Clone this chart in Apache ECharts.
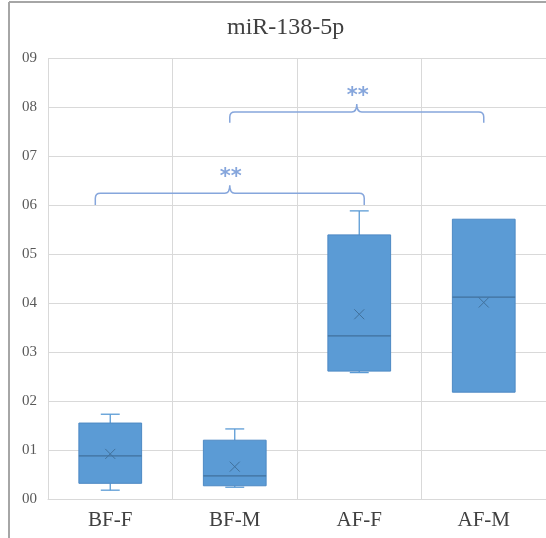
<!DOCTYPE html>
<html>
<head>
<meta charset="utf-8">
<script src="https://cdn.jsdelivr.net/npm/echarts@6/dist/echarts.min.js"></script>
<style>
  html, body { margin: 0; padding: 0; background: #fff; }
  #chart { width: 546px; height: 538px; }
</style>
</head>
<body>
<div id="chart"></div>
<script>
// groups on the x axis
const categories = ['BF-F', 'BF-M', 'AF-F', 'AF-M']
// five-number summary + mean
const minVals = [0.018, 0.024, 0.258, 0.218]
const q1Vals = [0.032, 0.027, 0.261, 0.218]
const medianVals = [0.088, 0.047, 0.333, 0.412]
const q3Vals = [0.155, 0.120, 0.539, 0.571]
const maxVals = [0.173, 0.143, 0.588, 0.571]
const meanVals = [0.092, 0.066, 0.377, 0.401]
// significance brackets (category positions, levels)
const bracketFrom = [-0.12, 0.96]
const bracketTo = [2.04, 3.0]
const bracketLine = [0.624, 0.790]
const bracketEnd = [0.600, 0.768]
const bracketLabel = ['**', '**']

const boxData = categories.map((c, i) => [i, minVals[i], q1Vals[i], medianVals[i], q3Vals[i], maxVals[i], meanVals[i]])
const bracketData = bracketFrom.map((f, i) => [f, bracketTo[i], bracketLine[i], bracketEnd[i], bracketLabel[i]])

const chart = echarts.init(document.getElementById('chart'))

function renderBox (params, api) {
  const i = api.value(0)
  const band = api.size([1, 0])[0]
  const cx = api.coord([i, 0])[0]
  const yMin = api.coord([i, api.value(1)])[1]
  const yQ1 = api.coord([i, api.value(2)])[1]
  const yMed = api.coord([i, api.value(3)])[1]
  const yQ3 = api.coord([i, api.value(4)])[1]
  const yMax = api.coord([i, api.value(5)])[1]
  const yMean = api.coord([i, api.value(6)])[1]
  const hw = band * 0.252
  const cw = band * 0.076
  const whisker = { stroke: '#5b9bd5', lineWidth: 1.3 }
  const children = []
  if (yMax < yQ3 - 0.5) {
    children.push({ type: 'line', shape: { x1: cx, y1: yQ3, x2: cx, y2: yMax }, style: whisker })
    children.push({ type: 'line', shape: { x1: cx - cw, y1: yMax, x2: cx + cw, y2: yMax }, style: whisker })
  }
  if (yMin > yQ1 + 0.5) {
    children.push({ type: 'line', shape: { x1: cx, y1: yQ1, x2: cx, y2: yMin }, style: whisker })
    children.push({ type: 'line', shape: { x1: cx - cw, y1: yMin, x2: cx + cw, y2: yMin }, style: whisker })
  }
  children.push({
    type: 'rect',
    shape: { x: cx - hw, y: yQ3, width: hw * 2, height: yQ1 - yQ3 },
    style: { fill: '#5b9bd5', stroke: '#4d89c4', lineWidth: 1 }
  })
  children.push({ type: 'line', shape: { x1: cx - hw, y1: yMed, x2: cx + hw, y2: yMed }, style: { stroke: '#41719c', lineWidth: 1.2 } })
  const m = 5
  children.push({ type: 'line', shape: { x1: cx - m, y1: yMean - m, x2: cx + m, y2: yMean + m }, style: { stroke: '#41719c', lineWidth: 1 } })
  children.push({ type: 'line', shape: { x1: cx - m, y1: yMean + m, x2: cx + m, y2: yMean - m }, style: { stroke: '#41719c', lineWidth: 1 } })
  return { type: 'group', children: children }
}

function renderBracket (params, api) {
  const band = api.size([1, 0])[0]
  const x0 = api.coord([0, 0])[0]
  const x1 = x0 + api.value(0) * band
  const x2 = x0 + api.value(1) * band
  const yl = api.coord([0, api.value(2)])[1]
  const ye = api.coord([0, api.value(3)])[1]
  const xm = (x1 + x2) / 2
  const r = 5
  const path = 'M' + x1 + ',' + ye +
    ' L' + x1 + ',' + (yl + r) +
    ' Q' + x1 + ',' + yl + ' ' + (x1 + r) + ',' + yl +
    ' L' + (xm - r) + ',' + yl +
    ' Q' + xm + ',' + yl + ' ' + xm + ',' + (yl - r * 1.6) +
    ' Q' + xm + ',' + yl + ' ' + (xm + r) + ',' + yl +
    ' L' + (x2 - r) + ',' + yl +
    ' Q' + x2 + ',' + yl + ' ' + x2 + ',' + (yl + r) +
    ' L' + x2 + ',' + ye
  return {
    type: 'group',
    children: [
      { type: 'path', shape: { pathData: path }, style: { fill: null, stroke: '#86a6dc', lineWidth: 1.5 } },
      {
        type: 'text',
        x: xm + 1,
        y: yl - r * 1.6 + 3,
        style: { text: api.value(4), fill: '#86a6dc', font: 'bold 21px "DejaVu Sans"', align: 'center', verticalAlign: 'bottom' }
      }
    ]
  }
}

chart.setOption({
  backgroundColor: '#fff',
  animation: false,
  title: {
    text: 'miR-138-5p',
    left: 222,
    top: 11,
    textStyle: { fontFamily: 'Liberation Serif', fontSize: 24, fontWeight: 'normal', color: '#404040' }
  },
  graphic: [
    { type: 'line', shape: { x1: 9, y1: 2, x2: 9, y2: 538 }, style: { stroke: '#a6a6a6', lineWidth: 2 } },
    { type: 'line', shape: { x1: 9, y1: 2, x2: 546, y2: 2 }, style: { stroke: '#a6a6a6', lineWidth: 2 } }
  ],
  grid: { left: 48, top: 58, width: 500, height: 441 },
  xAxis: {
    type: 'category',
    data: categories,
    axisLine: { show: true, lineStyle: { color: '#d9d9d9' } },
    axisTick: { show: false },
    splitLine: { show: true, lineStyle: { color: '#d9d9d9' } },
    axisLabel: { fontFamily: 'Liberation Serif', fontSize: 21, color: '#404040', margin: 11 }
  },
  yAxis: {
    type: 'value',
    min: 0,
    max: 0.9,
    interval: 0.1,
    axisLine: { show: false },
    axisTick: { show: false },
    splitLine: { lineStyle: { color: '#d9d9d9' } },
    axisLabel: {
      fontFamily: 'Liberation Serif',
      fontSize: 15,
      color: '#595959',
      margin: 11,
      formatter: v => '0' + Math.round(v * 10)
    }
  },
  series: [
    {
      type: 'custom',
      renderItem: renderBox,
      encode: { x: 0, y: [1, 2, 3, 4, 5] },
      data: boxData
    },
    {
      type: 'custom',
      renderItem: renderBracket,
      encode: { x: 0, y: 2 },
      data: bracketData
    }
  ]
})
</script>
</body>
</html>
